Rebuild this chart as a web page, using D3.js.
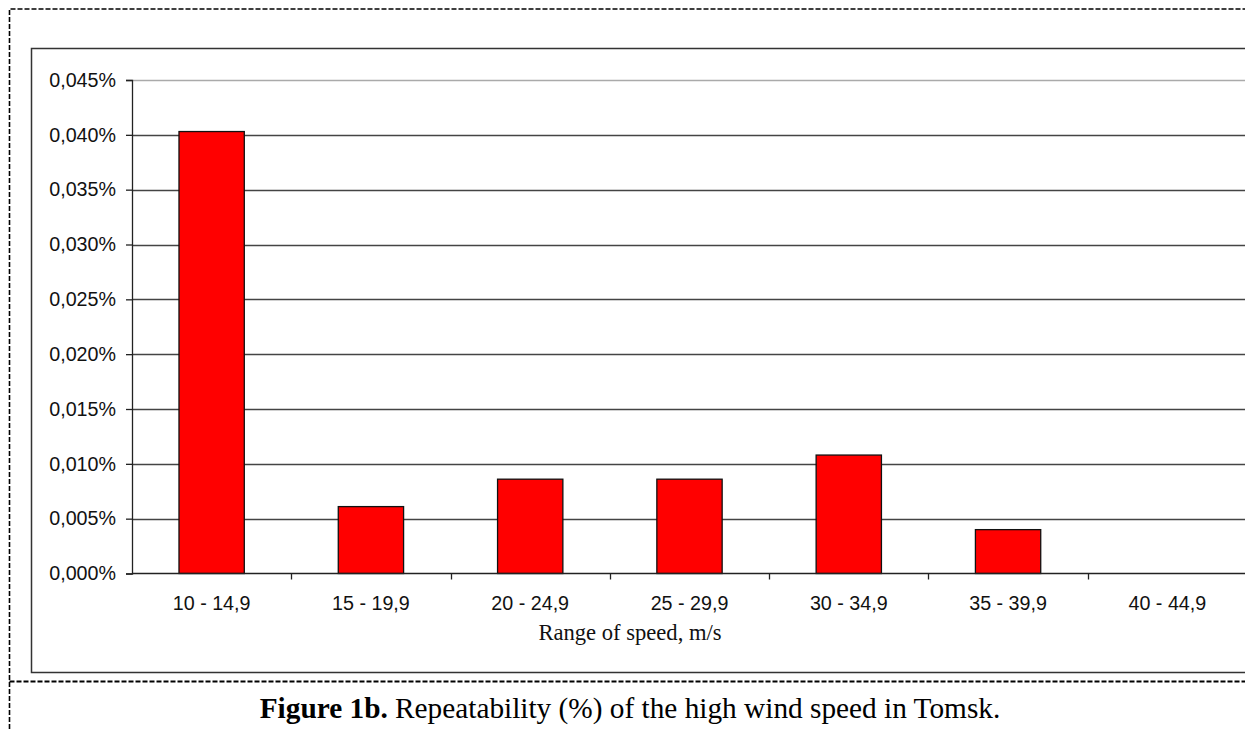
<!DOCTYPE html>
<html>
<head>
<meta charset="utf-8">
<script src="https://cdn.jsdelivr.net/npm/d3@7"></script>
<style>
  body { margin: 0; background: #fff; }
  svg { display: block; }
</style>
</head>
<body>
<div id="chart"></div>
<script>
// data (values in %)
const categories = ["10 - 14,9", "15 - 19,9", "20 - 24,9", "25 - 29,9", "30 - 34,9", "35 - 39,9", "40 - 44,9"];
const repeatability = [0.0403, 0.0061, 0.0086, 0.0086, 0.0108, 0.0040, 0];
const yTicks = [0, 0.005, 0.01, 0.015, 0.02, 0.025, 0.03, 0.035, 0.04, 0.045];

const width = 1245;
const height = 729;
const plot = { left: 132, right: 1247, top: 80, bottom: 573.5 };

const locale = d3.formatLocale({ decimal: ",", thousands: " ", grouping: [3], currency: ["", ""] });
const fmt = locale.format(".3f");

const svg = d3.select("#chart")
  .append("svg")
  .attr("width", width)
  .attr("height", height);

// outer dashed frame (figure box)
const dash = "5,2";
svg.append("path")
  .attr("d", `M9.5,${height} V9 H${width}`)
  .attr("fill", "none").attr("stroke", "#000").attr("stroke-width", 1.6)
  .attr("stroke-dasharray", dash);
svg.append("line")
  .attr("x1", 9.5).attr("x2", width).attr("y1", 681.5).attr("y2", 681.5)
  .attr("stroke", "#000").attr("stroke-width", 1.8).attr("stroke-dasharray", dash);

// chart area border
svg.append("path")
  .attr("d", `M${width},48.5 H31.5 V672.5 H${width}`)
  .attr("fill", "none").attr("stroke", "#333").attr("stroke-width", 1.5);

const x = d3.scaleBand()
  .domain(categories)
  .range([plot.left, plot.right])
  .paddingInner(0.59)
  .paddingOuter(0.295);

const y = d3.scaleLinear()
  .domain([0, 0.045])
  .range([plot.bottom, plot.top]);

// gridlines
svg.append("g")
  .selectAll("line")
  .data(yTicks.filter(d => d > 0))
  .join("line")
  .attr("x1", plot.left).attr("x2", width)
  .attr("y1", d => Math.round(y(d)) + 0.5)
  .attr("y2", d => Math.round(y(d)) + 0.5)
  .attr("stroke", d => d === 0.045 ? "#aaa" : "#444")
  .attr("stroke-width", 1.3);

// bars
svg.append("g")
  .selectAll("rect")
  .data(repeatability)
  .join("rect")
  .attr("x", (d, i) => x(categories[i]))
  .attr("y", d => y(d))
  .attr("width", x.bandwidth())
  .attr("height", d => y(0) - y(d))
  .attr("fill", d => d > 0 ? "#ff0000" : "none")
  .attr("stroke", d => d > 0 ? "#111" : "none")
  .attr("stroke-width", 1.3);

// y axis
const yAxis = svg.append("g")
  .attr("transform", `translate(${plot.left},0)`)
  .call(d3.axisLeft(y).tickValues(yTicks).tickSize(6).tickPadding(10)
    .tickFormat(d => fmt(d) + "%"));
yAxis.selectAll("path, line").attr("stroke", "#222").attr("stroke-width", 1.3);
yAxis.selectAll("text")
  .attr("font-family", "Liberation Sans, Arial, sans-serif")
  .attr("font-size", 19.7)
  .attr("fill", "#111");

// x axis line + boundary ticks
svg.append("line")
  .attr("x1", plot.left).attr("x2", width)
  .attr("y1", plot.bottom).attr("y2", plot.bottom)
  .attr("stroke", "#222").attr("stroke-width", 1.3);

const boundaries = d3.range(1, categories.length).map(i => plot.left + i * x.step());
svg.append("g")
  .selectAll("line")
  .data(boundaries)
  .join("line")
  .attr("x1", d => Math.round(d) + 0.5).attr("x2", d => Math.round(d) + 0.5)
  .attr("y1", plot.bottom).attr("y2", plot.bottom + 6)
  .attr("stroke", "#222").attr("stroke-width", 1.3);

svg.append("g")
  .selectAll("text")
  .data(categories)
  .join("text")
  .attr("x", d => x(d) + x.bandwidth() / 2)
  .attr("y", 610)
  .attr("text-anchor", "middle")
  .attr("font-family", "Liberation Sans, Arial, sans-serif")
  .attr("font-size", 19.7)
  .attr("fill", "#111")
  .text(d => d);

// axis title
svg.append("text")
  .attr("x", 630)
  .attr("y", 640)
  .attr("text-anchor", "middle")
  .attr("font-family", "Liberation Serif, Times New Roman, serif")
  .attr("font-size", 22.6)
  .attr("fill", "#111")
  .text("Range of speed, m/s");

// figure caption
const caption = svg.append("text")
  .attr("x", 630)
  .attr("y", 718)
  .attr("text-anchor", "middle")
  .attr("font-family", "Liberation Serif, Times New Roman, serif")
  .attr("font-size", 29.3)
  .attr("fill", "#000");
caption.append("tspan").attr("font-weight", "bold").text("Figure 1b.");
caption.append("tspan").text(" Repeatability (%) of the high wind speed in Tomsk.");
</script>
</body>
</html>
